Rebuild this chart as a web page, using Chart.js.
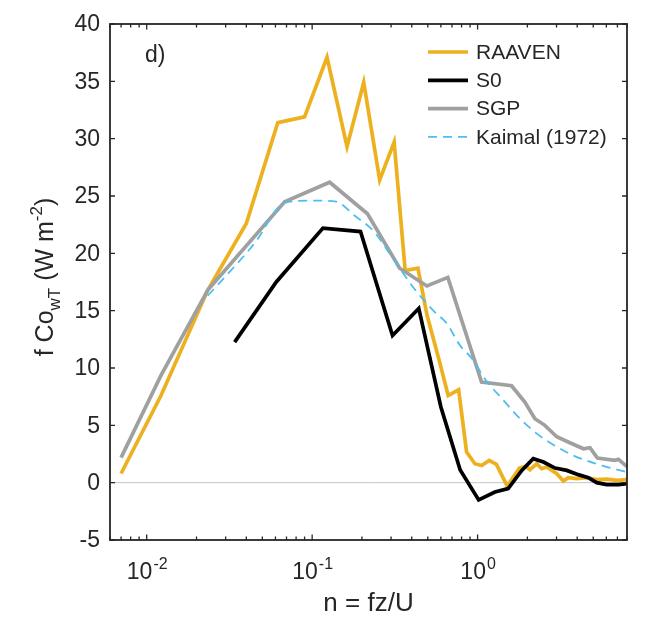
<!DOCTYPE html>
<html lang="en">
<head>
  <meta charset="UTF-8" />
  <title>f CowT spectrum</title>
  <script src="https://cdn.jsdelivr.net/npm/chart.js"></script>
  <style>
    html, body { margin: 0; padding: 0; background: #fff; }
    canvas { display: block; }
  </style>
</head>
<body>
  <canvas id="myChart" width="651" height="618"></canvas>

  <script>
    // valores
    const raavenN = [0.0070, 0.0122, 0.0234, 0.040, 0.062, 0.090, 0.123, 0.1625, 0.205, 0.256, 0.313, 0.365, 0.436, 0.495, 0.590, 0.664, 0.768, 0.858, 0.963, 1.057, 1.175, 1.30, 1.51, 1.79, 1.96, 2.07, 2.28, 2.44, 2.62, 3.01, 3.30, 3.53, 3.97, 4.57, 5.25, 6.04, 6.94, 8.0];
    const raavenCo = [0.8, 7.6, 16.8, 22.6, 31.4, 31.9, 37.1, 29.3, 34.9, 26.4, 29.7, 18.5, 18.7, 14.6, 10.5, 7.6, 8.1, 2.67, 1.65, 1.5, 1.94, 1.6, -0.3, 1.27, 1.42, 1.13, 1.65, 1.22, 1.36, 0.78, 0.14, 0.44, 0.35, 0.44, 0.26, 0.31, 0.2, 0.26];

    const s0N = [0.034, 0.0607, 0.1162, 0.196, 0.306, 0.441, 0.600, 0.785, 1.015, 1.273, 1.53, 1.85, 2.17, 2.50, 2.94, 3.46, 4.06, 4.67, 5.25, 6.04, 7.10, 8.0];
    const s0Co = [12.26, 17.5, 22.2, 21.9, 12.84, 15.2, 6.6, 1.1, -1.5, -0.82, -0.52, 1.07, 2.09, 1.8, 1.27, 1.07, 0.7, 0.44, 0.0, -0.17, -0.17, -0.09];

    const sgpN = [0.0070, 0.0122, 0.0234, 0.0682, 0.1276, 0.216, 0.338, 0.494, 0.661, 1.057, 1.605, 1.93, 2.22, 2.55, 3.01, 3.53, 4.36, 4.78, 5.30, 6.75, 7.10, 8.0];
    const sgpCo = [2.18, 9.35, 16.8, 24.5, 26.2, 23.45, 18.7, 17.15, 17.9, 8.77, 8.45, 7.03, 5.58, 5.0, 4.0, 3.55, 2.96, 3.05, 2.15, 1.95, 2.03, 1.4];

    const kaimalN = [0.0234, 0.045, 0.0682, 0.10, 0.140, 0.18, 0.233, 0.30, 0.41, 0.54, 0.65, 0.78, 0.94, 1.10, 1.43, 1.80, 2.27, 2.80, 3.62, 4.60, 5.8, 8.0];
    const kaimalCo = [16.3, 20.9, 24.4, 24.6, 24.5, 23.3, 22.0, 19.8, 17.0, 15.0, 13.9, 12.0, 10.7, 9.1, 7.2, 5.6, 4.3, 3.4, 2.5, 1.9, 1.45, 0.92];

    const seriesNames = ['RAAVEN', 'S0', 'SGP', 'Kaimal (1972)'];
    const yTicks = [-5, 0, 5, 10, 15, 20, 25, 30, 35, 40];
    const xMajor = [0.01, 0.1, 1];
    const xMajorExp = ['-2', '-1', '0'];

    const FONT = '"Liberation Sans", Arial, Helvetica, sans-serif';
    const TXT = '#262626';

    function pares(xs, ys) {
      return xs.map((x, i) => ({ x: x, y: ys[i] }));
    }

    // linha cinza do zero
    const zeroLine = {
      id: 'zeroLine',
      beforeDatasetsDraw(chart) {
        const { ctx, chartArea, scales } = chart;
        const y = scales.y.getPixelForValue(0);
        ctx.save();
        ctx.strokeStyle = '#c4c4c4';
        ctx.lineWidth = 1;
        ctx.beginPath();
        ctx.moveTo(chartArea.left, y);
        ctx.lineTo(chartArea.right, y);
        ctx.stroke();
        ctx.restore();
      }
    };

    // eixos estilo matlab: caixa, ticks pra dentro, rótulos e legenda
    const eixos = {
      id: 'eixos',
      afterDraw(chart) {
        const { ctx, chartArea: a, scales } = chart;
        const xs = scales.x, ys = scales.y;
        ctx.save();

        // caixa
        ctx.strokeStyle = TXT;
        ctx.lineWidth = 1.8;
        ctx.strokeRect(a.left, a.top, a.right - a.left, a.bottom - a.top);

        // ticks y
        ctx.lineWidth = 1.3;
        ctx.beginPath();
        yTicks.forEach(v => {
          const y = ys.getPixelForValue(v);
          ctx.moveTo(a.left, y); ctx.lineTo(a.left + 5, y);
          ctx.moveTo(a.right, y); ctx.lineTo(a.right - 5, y);
        });
        // ticks x (maiores e menores)
        for (let d = -3; d <= 1; d++) {
          for (let k = 1; k <= 9; k++) {
            const v = k * Math.pow(10, d);
            if (v < xs.min * 0.999 || v > xs.max * 1.001) continue;
            const x = xs.getPixelForValue(v);
            const len = k === 1 ? 5.5 : 3.5;
            ctx.moveTo(x, a.bottom); ctx.lineTo(x, a.bottom - len);
            ctx.moveTo(x, a.top); ctx.lineTo(x, a.top + len);
          }
        }
        ctx.stroke();

        ctx.fillStyle = TXT;

        // rótulos y
        ctx.font = '23px ' + FONT;
        ctx.textAlign = 'right';
        ctx.textBaseline = 'middle';
        yTicks.forEach(v => {
          ctx.fillText(String(v), a.left - 10, ys.getPixelForValue(v) + 1);
        });

        // rótulos x com expoente
        ctx.textBaseline = 'alphabetic';
        ctx.textAlign = 'left';
        xMajor.forEach((v, i) => {
          ctx.font = '23px ' + FONT;
          const wb = ctx.measureText('10').width;
          ctx.font = '16px ' + FONT;
          const we = ctx.measureText(xMajorExp[i]).width;
          const x0 = xs.getPixelForValue(v) - (wb + we) / 2;
          ctx.font = '23px ' + FONT;
          ctx.fillText('10', x0, 579);
          ctx.font = '16px ' + FONT;
          ctx.fillText(xMajorExp[i], x0 + wb + 1, 569);
        });

        // título x
        ctx.font = '26px ' + FONT;
        ctx.textAlign = 'center';
        ctx.fillText('n = fz/U', (a.left + a.right) / 2, 611);

        // título y (girado)
        ctx.save();
        ctx.translate(53, (a.top + a.bottom) / 2 - 5);
        ctx.rotate(-Math.PI / 2);
        const partes = [
          ['f Co', 25, 0],
          ['wT', 17, 7],
          [' (W m', 25, 0],
          ['-2', 17, -11],
          [')', 25, 0]
        ];
        let total = 0;
        partes.forEach(p => { ctx.font = p[1] + 'px ' + FONT; total += ctx.measureText(p[0]).width; });
        let px = -total / 2;
        ctx.textAlign = 'left';
        partes.forEach(p => {
          ctx.font = p[1] + 'px ' + FONT;
          ctx.fillText(p[0], px, p[2]);
          px += ctx.measureText(p[0]).width;
        });
        ctx.restore();

        // letra do painel
        ctx.font = '23px ' + FONT;
        ctx.textAlign = 'left';
        ctx.fillText('d)', 145, 62);

        // legenda
        const ds = chart.data.datasets;
        ctx.font = '21px ' + FONT;
        ctx.textBaseline = 'middle';
        seriesNames.forEach((nome, i) => {
          const y = 52 + i * 28.3;
          const d = ds[i];
          ctx.strokeStyle = d.borderColor;
          ctx.lineWidth = d.borderWidth;
          ctx.setLineDash(d.borderDash || []);
          ctx.beginPath();
          ctx.moveTo(428, y); ctx.lineTo(468, y);
          ctx.stroke();
          ctx.setLineDash([]);
          ctx.fillStyle = TXT;
          ctx.fillText(nome, 476, y + 1);
        });

        ctx.restore();
      }
    };

    const ctx = document.getElementById('myChart').getContext('2d');
    const myChart = new Chart(ctx, {
      type: 'line',
      data: {
        datasets: [
          {
            label: seriesNames[0],
            data: pares(raavenN, raavenCo),
            borderColor: '#EDB120',
            borderWidth: 3.7,
            order: 4
          },
          {
            label: seriesNames[1],
            data: pares(s0N, s0Co),
            borderColor: '#000000',
            borderWidth: 3.7,
            order: 3
          },
          {
            label: seriesNames[2],
            data: pares(sgpN, sgpCo),
            borderColor: '#A0A0A0',
            borderWidth: 3.7,
            order: 2
          },
          {
            label: seriesNames[3],
            data: pares(kaimalN, kaimalCo),
            borderColor: '#4DBEEE',
            borderWidth: 1.8,
            borderDash: [9, 6],
            cubicInterpolationMode: 'monotone',
            order: 1
          }
        ]
      },
      options: {
        responsive: false,
        animation: false,
        events: [],
        elements: { point: { radius: 0 }, line: { tension: 0 } },
        layout: { padding: { left: 110, top: 24, right: 24, bottom: 78 } },
        scales: {
          x: { type: 'logarithmic', min: 0.006, max: 8, display: false },
          y: { type: 'linear', min: -5, max: 40, display: false }
        },
        plugins: {
          legend: { display: false },
          tooltip: { enabled: false }
        }
      },
      plugins: [zeroLine, eixos]
    });
  </script>
</body>
</html>
